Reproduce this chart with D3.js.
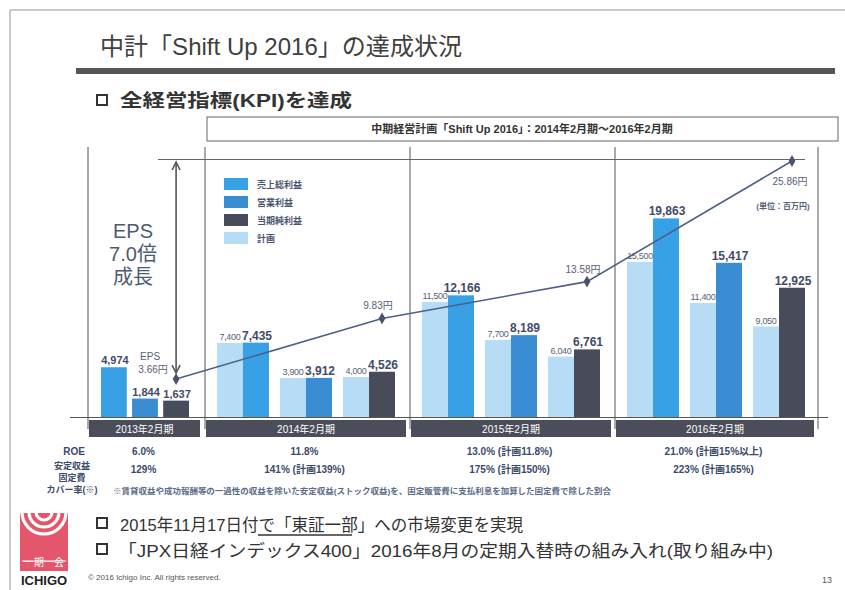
<!DOCTYPE html>
<html><head><meta charset="utf-8">
<script src="https://cdn.jsdelivr.net/npm/d3@7"></script>
<style>
body{margin:0;background:#fff;}
text{font-family:"Liberation Sans","Noto Sans CJK JP",sans-serif;}
</style></head><body>
<svg id="c" width="845" height="590"></svg>
<script>
// ---- data ----
const categories = ["2013年2月期","2014年2月期","2015年2月期","2016年2月期"];
const metrics = ["gross","operating","net"];
const legendLabels = ["売上総利益","営業利益","当期純利益","計画"];
const grossProfit     = [4974, 7435, 12166, 19863];
const operatingProfit = [1844, 3912, 8189, 15417];
const netIncome       = [1637, 4526, 6761, 12925];
const planGross       = [null, 7400, 11500, 15500];
const planOperating   = [null, 3900, 7700, 11400];
const planNet         = [null, 4000, 6040, 9050];
const eps             = [3.66, 9.83, 13.58, 25.86];
const roe      = ["6.0%","11.8%","13.0% (計画11.8%)","21.0% (計画15%以上)"];
const coverage = ["129%","141% (計画139%)","175% (計画150%)","223% (計画165%)"];

const actual = {gross: grossProfit, operating: operatingProfit, net: netIncome};
const plan   = {gross: planGross, operating: planOperating, net: planNet};
const colors = {gross:"#38a1e6", operating:"#3a8dd2", net:"#484c5a", plan:"#b6dcf6"};

const svg = d3.select("#c");
const fmt = d3.format(",");

// ---- frame ----
svg.append("line").attr("x1",10).attr("x2",845).attr("y1",10).attr("y2",10).attr("stroke","#b8b8b8").attr("stroke-width",1.5);
svg.append("line").attr("x1",10).attr("x2",10).attr("y1",10).attr("y2",590).attr("stroke","#b8b8b8").attr("stroke-width",1.5);

svg.append("text").attr("x",100).attr("y",55).attr("font-size",24).attr("fill","#404040")
  .attr("textLength",362).attr("lengthAdjust","spacingAndGlyphs").text("中計「Shift Up 2016」の達成状況");
svg.append("rect").attr("x",76).attr("y",68).attr("width",759).attr("height",6).attr("fill","#555");

function bullet(x, y){
  svg.append("rect").attr("x",x).attr("y",y).attr("width",10).attr("height",10)
    .attr("fill","none").attr("stroke","#333").attr("stroke-width",2);
}
bullet(97, 95);
svg.append("text").attr("x",120).attr("y",107).attr("font-size",18).attr("font-weight","bold").attr("fill","#333")
  .attr("textLength",232).attr("lengthAdjust","spacingAndGlyphs").text("全経営指標(KPI)を達成");

svg.append("rect").attr("x",207).attr("y",117).attr("width",631).attr("height",24)
  .attr("fill","#fff").attr("stroke","#666").attr("stroke-width",1);
svg.append("text").attr("x",522).attr("y",133).attr("text-anchor","middle").attr("font-size",11).attr("font-weight","bold").attr("fill","#333")
  .text("中期経営計画「Shift Up 2016」：2014年2月期～2016年2月期");

// ---- scales ----
const panelLeft  = d3.scaleOrdinal(categories, [88, 205, 410, 615]);
const panelRight = d3.scaleOrdinal(categories, [205, 410, 615, 818]);
const y = d3.scaleLinear().domain([0, 20000]).range([417, 217]);
const yEps = d3.scaleLinear().domain([0, 25.86]).range([415, 161]);

const pairBand = d3.scaleBand().domain(metrics).range([12, 190]).paddingInner(0.175);
const subBand = d3.scaleBand().domain(["plan","actual"]).range([0, pairBand.bandwidth()]);
const singleBand = d3.scaleBand().domain(metrics).range([13, 101]).paddingInner(0.17);

function barX(i, m, kind){
  const c = categories[i];
  if (plan[m][i] == null) return panelLeft(c) + singleBand(m);
  return panelLeft(c) + pairBand(m) + subBand(kind);
}
function barW(i){ return plan.gross[i] == null ? singleBand.bandwidth() : subBand.bandwidth(); }

// ---- grid lines ----
const edges = [88, 205, 410, 615, 818];
svg.selectAll(".vl").data(edges).enter().append("line")
  .attr("x1",d=>d).attr("x2",d=>d).attr("y1",147).attr("y2",429)
  .attr("stroke","#555").attr("stroke-width",1);
svg.append("line").attr("x1",70).attr("x2",828).attr("y1",417.5).attr("y2",417.5).attr("stroke","#555").attr("stroke-width",1);

// ---- bars ----
const barsG = svg.append("g");
categories.forEach((c, i) => {
  metrics.forEach(m => {
    const w = barW(i);
    if (plan[m][i] != null) {
      const px = barX(i, m, "plan");
      barsG.append("rect").attr("x",px).attr("y",y(plan[m][i])).attr("width",w).attr("height",y(0)-y(plan[m][i])).attr("fill",colors.plan);
      barsG.append("text").attr("x",px+w/2).attr("y",y(plan[m][i])-3).attr("text-anchor","middle")
        .attr("font-size",9).attr("fill","#56617a").attr("letter-spacing","-0.3").text(fmt(plan[m][i]));
    }
    const ax = barX(i, m, "actual");
    barsG.append("rect").attr("x",ax).attr("y",y(actual[m][i])).attr("width",w).attr("height",y(0)-y(actual[m][i])).attr("fill",colors[m]);
    barsG.append("text").attr("x",ax+w/2+1).attr("y",y(actual[m][i])-3).attr("text-anchor","middle")
      .attr("font-size",i===0?11:12).attr("font-weight","bold").attr("fill","#3f4b68").text(fmt(actual[m][i]));
  });
});

// ---- category header boxes ----
categories.forEach((c, i) => {
  const l = panelLeft(c) + 1, r = panelRight(c) - (i===0 ? 5 : 4);
  svg.append("rect").attr("x",l).attr("y",420).attr("width",r-l).attr("height",17).attr("fill","#4b4e5a");
  svg.append("text").attr("x",(l+r)/2).attr("y",432.5).attr("text-anchor","middle").attr("font-size",10).attr("fill","#fff").text(c);
});

// ---- legend ----
const legColors = [colors.gross, colors.operating, colors.net, colors.plan];
legendLabels.forEach((t, i) => {
  svg.append("rect").attr("x",224).attr("y",178+i*18).attr("width",24).attr("height",12).attr("fill",legColors[i]);
  svg.append("text").attr("x",257).attr("y",188+i*18).attr("font-size",9).attr("font-weight","bold").attr("fill","#4a5570").text(t);
});

// ---- EPS line ----
const epsX = i => barX(i, "net", "actual") + barW(i)/2;
const epsPts = eps.map((v, i) => [epsX(i), yEps(v)]);
// reference top line
svg.append("line").attr("x1",158).attr("x2",805).attr("y1",yEps(eps[3])-1.5).attr("y2",yEps(eps[3])-1.5).attr("stroke","#666").attr("stroke-width",1.2);
svg.append("path").attr("d", d3.line()(epsPts)).attr("fill","none").attr("stroke","#4f5f86").attr("stroke-width",1.6);
svg.selectAll(".ed").data(epsPts).enter().append("path")
  .attr("transform",d=>`translate(${d[0]},${d[1]})`)
  .attr("d", d3.symbol(d3.symbolDiamond, 40)).attr("fill","#4a5270");

// arrow
const ax0 = epsPts[0][0];
const aTop = yEps(eps[3]) + 1, aBot = yEps(eps[0]) - 6;
svg.append("line").attr("x1",ax0).attr("x2",ax0).attr("y1",aTop).attr("y2",aBot).attr("stroke","#555").attr("stroke-width",1.6);
svg.append("path").attr("d",`M${ax0-4},${aTop+8}L${ax0},${aTop}L${ax0+4},${aTop+8}`).attr("fill","none").attr("stroke","#555").attr("stroke-width",1.6);
svg.append("path").attr("d",`M${ax0-4},${aBot-8}L${ax0},${aBot}L${ax0+4},${aBot-8}`).attr("fill","none").attr("stroke","#555").attr("stroke-width",1.6);

// EPS growth text
["EPS","7.0倍","成長"].forEach((t, i) => {
  svg.append("text").attr("x",133).attr("y",238+i*23).attr("text-anchor","middle").attr("font-size",20).attr("fill","#4e5a72").text(t);
});

// EPS labels
const epsLab = v => v.toFixed(2) + "円";
svg.append("text").attr("x",epsPts[0][0]-26).attr("y",epsPts[0][1]-19).attr("text-anchor","middle").attr("font-size",10).attr("fill","#56617a").text("EPS");
svg.append("text").attr("x",epsPts[0][0]-23).attr("y",epsPts[0][1]-6).attr("text-anchor","middle").attr("font-size",10).attr("fill","#56617a").text(epsLab(eps[0]));
[1,2].forEach(i => {
  svg.append("text").attr("x",epsPts[i][0]-4).attr("y",epsPts[i][1]-9).attr("text-anchor","middle").attr("font-size",10).attr("fill","#56617a").text(epsLab(eps[i]));
});
svg.append("text").attr("x",epsPts[3][0]-2).attr("y",epsPts[3][1]+24).attr("text-anchor","middle").attr("font-size",10).attr("fill","#56617a").text(epsLab(eps[3]));
svg.append("text").attr("x",783).attr("y",209).attr("text-anchor","middle").attr("font-size",8).attr("font-weight","bold").attr("fill","#56617a").text("(単位：百万円)");

// ---- KPI rows ----
const rowCx = c => (panelLeft(c) + panelRight(c)) / 2 - 3;
svg.append("text").attr("x",74).attr("y",455).attr("text-anchor","middle").attr("font-size",10).attr("font-weight","bold").attr("fill","#3a4a6a").text("ROE");
["安定収益","固定費","カバー率(※)"].forEach((t, i) => {
  svg.append("text").attr("x",72).attr("y",469+i*12).attr("text-anchor","middle").attr("font-size",9).attr("font-weight","bold").attr("fill","#3a4a6a").text(t);
});
categories.forEach((c, i) => {
  svg.append("text").attr("x",rowCx(c)).attr("y",455).attr("text-anchor","middle").attr("font-size",10).attr("font-weight","bold").attr("fill","#3a4a6a").text(roe[i]);
  svg.append("text").attr("x",rowCx(c)).attr("y",473).attr("text-anchor","middle").attr("font-size",10).attr("font-weight","bold").attr("fill","#3a4a6a").text(coverage[i]);
});
svg.append("text").attr("x",113).attr("y",494).attr("font-size",8).attr("font-weight","bold").attr("fill","#5a6a85")
  .attr("textLength",498).attr("lengthAdjust","spacingAndGlyphs")
  .text("※賃貸収益や成功報酬等の一過性の収益を除いた安定収益(ストック収益)を、固定販管費に支払利息を加算した固定費で除した割合");

// ---- footer bullets ----
bullet(97, 518);
svg.append("text").attr("x",120).attr("y",531).attr("font-size",17).attr("fill","#333")
  .attr("textLength",403).attr("lengthAdjust","spacingAndGlyphs").text("2015年11月17日付で「東証一部」への市場変更を実現");
svg.append("line").attr("x1",258).attr("x2",352).attr("y1",535).attr("y2",535).attr("stroke","#333").attr("stroke-width",1.3);
bullet(97, 544);
svg.append("text").attr("x",118).attr("y",557).attr("font-size",17).attr("fill","#333")
  .attr("textLength",655).attr("lengthAdjust","spacingAndGlyphs").text("「JPX日経インデックス400」2016年8月の定期入替時の組み入れ(取り組み中)");

svg.append("text").attr("x",88).attr("y",580).attr("font-size",8).attr("fill","#555").text("© 2016 Ichigo Inc. All rights reserved.");
svg.append("text").attr("x",832).attr("y",583).attr("text-anchor","end").attr("font-size",9).attr("fill","#555").text("13");

// ---- logo ----
const logo = svg.append("g");
logo.append("defs").append("clipPath").attr("id","lc").append("rect").attr("x",20).attr("y",513).attr("width",48).attr("height",58);
const lg = logo.append("g").attr("clip-path","url(#lc)");
lg.append("rect").attr("x",20).attr("y",513).attr("width",48).attr("height",58).attr("fill","#e3566c");
[22, 15, 8].forEach(r => {
  lg.append("circle").attr("cx",44).attr("cy",512).attr("r",r).attr("fill","none").attr("stroke","#fff").attr("stroke-width",3.2);
});
lg.append("line").attr("x1",22).attr("x2",66).attr("y1",561).attr("y2",561).attr("stroke","#fff").attr("stroke-width",1);
lg.append("text").attr("x",44).attr("y",566).attr("text-anchor","middle").attr("font-size",10).attr("fill","#fff").text("一期一会");
logo.append("text").attr("x",44).attr("y",585).attr("text-anchor","middle").attr("font-size",13).attr("font-weight","bold").attr("fill","#222").text("ICHIGO");
</script>
</body></html>
